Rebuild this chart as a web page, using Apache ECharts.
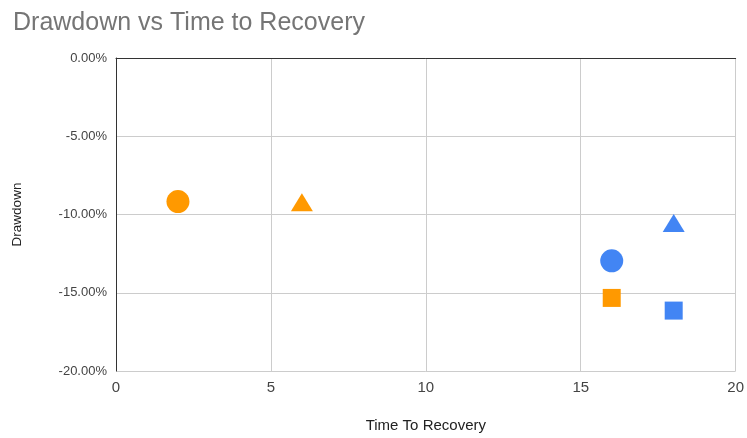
<!DOCTYPE html>
<html>
<head>
<meta charset="utf-8">
<script src="https://cdn.jsdelivr.net/npm/echarts@6/dist/echarts.min.js"></script>
<style>
  html, body { margin: 0; padding: 0; background: #fff; overflow: hidden; }
  #chart { position: absolute; left: 0; top: 0; width: 747px; height: 438px; }
</style>
</head>
<body>
<div id="chart"></div>
<script>
// Time to recovery and drawdown for each case, grouped by colour
const orangeTime = [2, 6, 16];
const orangeDrawdown = [-0.0917, -0.0922, -0.1533];
const blueTime = [16, 18, 18];
const blueDrawdown = [-0.1296, -0.1055, -0.1614];

const xTicks = [0, 5, 10, 15, 20];
const yTicks = [0, -0.05, -0.10, -0.15, -0.20];

// marker shape per position within a group
const shapes = ['circle', 'triangle', 'rect'];
const sizes = { circle: 23, triangle: [22, 18], rect: 18 };

const FONT = 'Arial, "Liberation Sans", sans-serif';

function pointSeries(times, drawdowns, color) {
  return times.map((t, i) => ({
    type: 'scatter',
    symbol: shapes[i],
    symbolSize: sizes[shapes[i]],
    itemStyle: { color: color, opacity: 1 },
    data: [[t, drawdowns[i]]],
    z: 5
  }));
}

const chart = echarts.init(document.getElementById('chart'), null, { renderer: 'canvas' });

chart.setOption({
  animation: false,
  backgroundColor: '#ffffff',
  title: {
    text: 'Drawdown vs Time to Recovery',
    left: 8,
    top: 6,
    textStyle: { fontFamily: FONT, fontSize: 25, fontWeight: 'normal', color: '#757575' }
  },
  grid: { left: 116, right: 11, top: 58, bottom: 62, containLabel: false },
  xAxis: [
    {
      type: 'value',
      min: xTicks[0],
      max: xTicks[xTicks.length - 1],
      interval: 5,
      name: 'Time To Recovery',
      nameLocation: 'middle',
      nameGap: 47,
      nameTextStyle: { fontFamily: FONT, fontSize: 15, color: '#222' },
      axisLine: { show: false },
      axisTick: { show: false },
      axisLabel: { fontFamily: FONT, fontSize: 15, color: '#444', margin: 9 },
      splitLine: { show: true, lineStyle: { color: '#cccccc', width: 1 } }
    },
    {
      // zero baseline along the top edge
      type: 'value',
      position: 'top',
      min: xTicks[0],
      max: xTicks[xTicks.length - 1],
      axisLine: { show: true, lineStyle: { color: '#333', width: 1 } },
      axisTick: { show: false },
      axisLabel: { show: false },
      splitLine: { show: false }
    }
  ],
  yAxis: {
    type: 'value',
    min: yTicks[yTicks.length - 1],
    max: yTicks[0],
    interval: 0.05,
    name: 'Drawdown',
    nameLocation: 'middle',
    nameGap: 92,
    nameRotate: 90,
    nameTextStyle: { fontFamily: FONT, fontSize: 13.5, color: '#222' },
    axisLine: { show: true, lineStyle: { color: '#333', width: 1 } },
    axisTick: { show: false },
    axisLabel: {
      fontFamily: FONT, fontSize: 13, color: '#444', margin: 9,
      formatter: v => (v * 100).toFixed(2) + '%'
    },
    splitLine: { show: true, lineStyle: { color: '#cccccc', width: 1 } }
  },
  series: [
    ...pointSeries(orangeTime, orangeDrawdown, '#ff9900'),
    ...pointSeries(blueTime, blueDrawdown, '#4285f4')
  ]
});
</script>
</body>
</html>
